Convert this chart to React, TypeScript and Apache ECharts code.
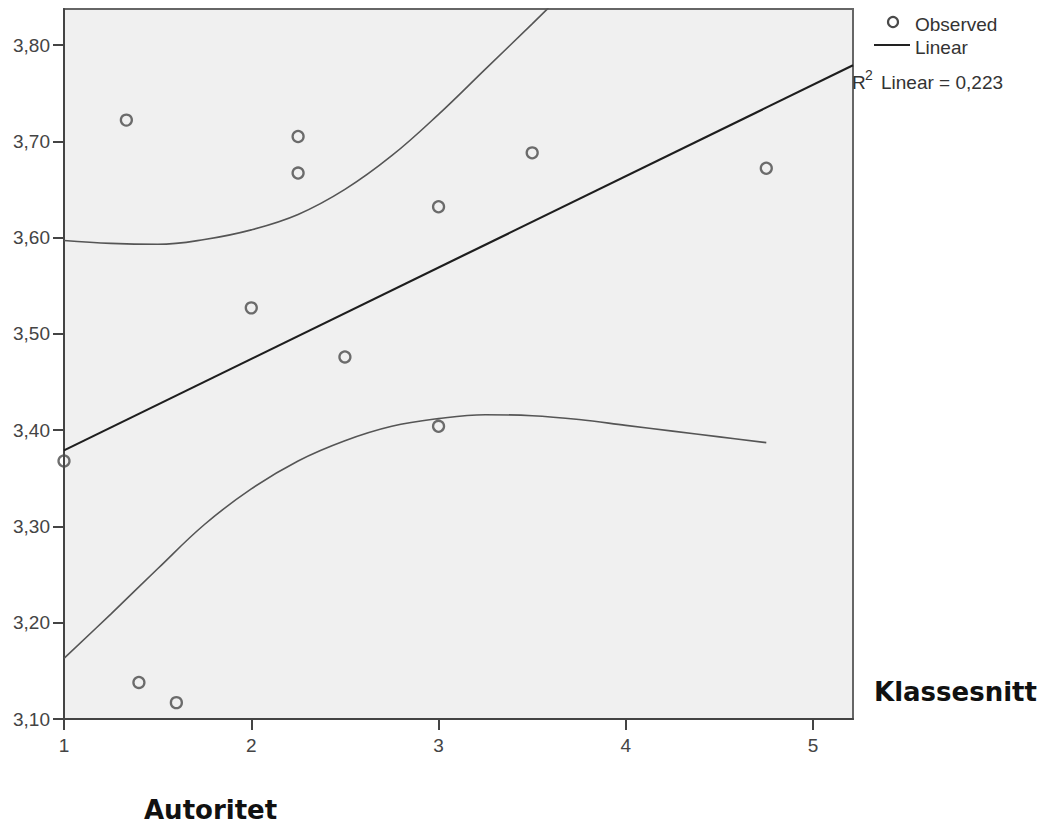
import React, { useEffect, useRef } from "react";
import * as echarts from "echarts";

// Observed points (Autoritet, Klassesnitt)
const obsX = [1.333, 2.25, 2.25, 3.0, 3.5, 4.75, 2.0, 2.5, 3.0, 1.0, 1.4, 1.6];
const obsY = [3.722, 3.705, 3.667, 3.632, 3.688, 3.672, 3.527, 3.476, 3.404, 3.368, 3.138, 3.117];

// Linear fit line endpoints
const fitX = [1.0, 5.213];
const fitY = [3.379, 3.779];

// Upper confidence curve
const upX = [1.0, 1.25, 1.5, 1.75, 2.0, 2.25, 2.5, 2.75, 3.0, 3.25, 3.5, 3.75];
const upY = [3.597, 3.594, 3.593, 3.598, 3.608, 3.624, 3.650, 3.685, 3.728, 3.775, 3.822, 3.87];

// Lower confidence curve
const loX = [1.0, 1.25, 1.5, 1.75, 2.0, 2.25, 2.5, 2.75, 3.0, 3.25, 3.5, 3.75, 4.0, 4.25, 4.5, 4.75];
const loY = [3.163, 3.209, 3.256, 3.302, 3.339, 3.368, 3.389, 3.404, 3.412, 3.416, 3.415, 3.411, 3.405, 3.399, 3.393, 3.387];

const xMin = 1;
const xMax = 5.213;
const yMin = 3.1;
const yMax = 3.8374;

const zip = (xs: number[], ys: number[]) => xs.map((x, i) => [x, ys[i]]);

const FONT = "Liberation Sans, Arial, sans-serif";

export default function App() {
  const ref = useRef<HTMLDivElement>(null);
  useEffect(() => {
    if (!ref.current) return;
    const chart = echarts.init(ref.current, undefined, { renderer: "svg" });
    const isTick = (v: number, step: number) =>
      Math.abs(v / step - Math.round(v / step)) < 1e-6;
    chart.setOption({
      animation: false,
      backgroundColor: "#ffffff",
      grid: {
        left: 64,
        right: 191,
        top: 9,
        bottom: 108,
        show: true,
        backgroundColor: "#f0f0f0",
        borderColor: "#666",
        borderWidth: 2,
      },
      xAxis: {
        type: "value",
        min: xMin,
        max: xMax,
        interval: 1,
        splitLine: { show: false },
        axisLine: { show: true, onZero: false, lineStyle: { color: "#444", width: 2 } },
        axisTick: { show: true, length: 11, lineStyle: { color: "#444", width: 2 } },
        axisLabel: {
          margin: 17,
          color: "#444",
          fontFamily: FONT,
          fontSize: 19,
          showMaxLabel: false,
          formatter: (v: number) => (isTick(v, 1) ? String(Math.round(v)) : ""),
        },
      },
      yAxis: {
        type: "value",
        min: yMin,
        max: yMax,
        interval: 0.1,
        splitLine: { show: false },
        axisLine: { show: true, onZero: false, lineStyle: { color: "#444", width: 2 } },
        axisTick: { show: true, length: 11, lineStyle: { color: "#444", width: 2 } },
        axisLabel: {
          margin: 14,
          color: "#444",
          fontFamily: FONT,
          fontSize: 19,
          showMaxLabel: false,
          formatter: (v: number) =>
            isTick(v, 0.1) ? v.toFixed(2).replace(".", ",") : "",
        },
      },
      series: [
        {
          type: "line",
          data: zip(upX, upY),
          smooth: 0.4,
          showSymbol: false,
          clip: true,
          lineStyle: { color: "#555", width: 1.6 },
          z: 2,
        },
        {
          type: "line",
          data: zip(loX, loY),
          smooth: 0.4,
          showSymbol: false,
          clip: true,
          lineStyle: { color: "#555", width: 1.6 },
          z: 2,
        },
        {
          type: "line",
          data: zip(fitX, fitY),
          showSymbol: false,
          clip: true,
          lineStyle: { color: "#1e1e1e", width: 2.2 },
          z: 3,
        },
        {
          type: "scatter",
          data: zip(obsX, obsY),
          symbol: "circle",
          symbolSize: 11,
          clip: true,
          itemStyle: { color: "rgba(0,0,0,0)", borderColor: "#4a4a4a", borderWidth: 2.3 },
          z: 4,
        },
      ],
      graphic: [
        {
          type: "circle",
          shape: { cx: 893, cy: 22, r: 5 },
          style: { fill: "none", stroke: "#4a4a4a", lineWidth: 2.2 },
        },
        {
          type: "text",
          x: 915,
          y: 24,
          style: { text: "Observed", font: `19px ${FONT}`, fill: "#333", verticalAlign: "middle" },
        },
        {
          type: "line",
          shape: { x1: 874, y1: 45, x2: 910, y2: 45 },
          style: { stroke: "#222", lineWidth: 2 },
        },
        {
          type: "text",
          x: 915,
          y: 47,
          style: { text: "Linear", font: `19px ${FONT}`, fill: "#333", verticalAlign: "middle" },
        },
        {
          type: "text",
          x: 852,
          y: 82,
          style: { text: "R", font: `19px ${FONT}`, fill: "#333", verticalAlign: "middle" },
        },
        {
          type: "text",
          x: 865,
          y: 75,
          style: { text: "2", font: `14px ${FONT}`, fill: "#333", verticalAlign: "middle" },
        },
        {
          type: "text",
          x: 881,
          y: 82,
          style: { text: "Linear = 0,223", font: `19px ${FONT}`, fill: "#333", verticalAlign: "middle" },
        },
        {
          type: "text",
          x: 874,
          y: 692,
          style: {
            text: "Klassesnitt",
            font: `bold 26px DejaVu Sans, sans-serif`,
            fill: "#111",
            verticalAlign: "middle",
          },
        },
        {
          type: "text",
          x: 144,
          y: 810,
          style: {
            text: "Autoritet",
            font: `bold 26px DejaVu Sans, sans-serif`,
            fill: "#111",
            verticalAlign: "middle",
          },
        },
      ],
    });
    return () => chart.dispose();
  }, []);
  return (
    <div
      ref={ref}
      style={{ position: "fixed", left: 0, top: 0, width: 1044, height: 827 }}
    />
  );
}
